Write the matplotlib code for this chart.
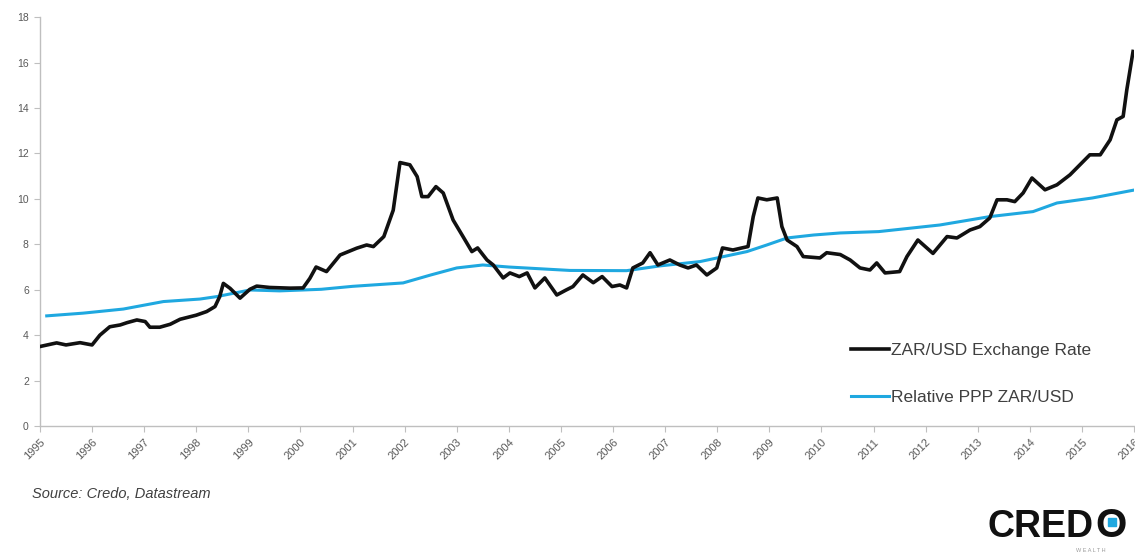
import numpy as np
import matplotlib.pyplot as plt

plt.rcParams['font.family'] = ['Liberation Sans', 'DejaVu Sans']

# ZAR/USD spot rate (decimal year, rand per dollar)
fx_years = [1995.00, 1995.32, 1995.50, 1995.77, 1996.00, 1996.15, 1996.34, 1996.54, 1996.67, 1996.86,
            1997.02, 1997.11, 1997.30, 1997.50, 1997.69, 1998.00, 1998.20, 1998.36, 1998.45, 1998.52,
            1998.65, 1998.84, 1999.03, 1999.16, 1999.41, 1999.80, 2000.05, 2000.18, 2000.30, 2000.50,
            2000.76, 2001.08, 2001.27, 2001.40, 2001.60, 2001.78, 2001.91, 2002.10, 2002.24, 2002.33,
            2002.45, 2002.60, 2002.74, 2002.93, 2003.12, 2003.29, 2003.40, 2003.58, 2003.70, 2003.89,
            2004.02, 2004.20, 2004.35, 2004.50, 2004.69, 2004.92, 2005.10, 2005.23, 2005.42, 2005.62,
            2005.79, 2005.98, 2006.13, 2006.26, 2006.38, 2006.57, 2006.71, 2006.86, 2007.09, 2007.28,
            2007.44, 2007.60, 2007.80, 2007.99, 2008.10, 2008.30, 2008.47, 2008.59, 2008.69, 2008.78,
            2008.95, 2009.15, 2009.24, 2009.34, 2009.53, 2009.65, 2009.97, 2010.10, 2010.36, 2010.55,
            2010.74, 2010.93, 2011.06, 2011.22, 2011.50, 2011.64, 2011.85, 2012.14, 2012.41, 2012.60,
            2012.85, 2013.04, 2013.23, 2013.37, 2013.56, 2013.71, 2013.87, 2014.04, 2014.29, 2014.52,
            2014.77, 2014.96, 2015.15, 2015.35, 2015.54, 2015.67, 2015.79, 2015.86, 2015.98]
fx_rate = [3.50, 3.66, 3.57, 3.67, 3.57, 4.00, 4.37, 4.45, 4.55, 4.67,
           4.60, 4.35, 4.35, 4.48, 4.70, 4.88, 5.04, 5.26, 5.70, 6.28,
           6.06, 5.63, 6.02, 6.16, 6.10, 6.07, 6.08, 6.50, 7.00, 6.80,
           7.53, 7.83, 7.97, 7.90, 8.34, 9.50, 11.60, 11.50, 10.98, 10.10,
           10.10, 10.54, 10.26, 9.07, 8.34, 7.68, 7.84, 7.31, 7.09, 6.52,
           6.74, 6.58, 6.74, 6.08, 6.52, 5.77, 5.99, 6.14, 6.65, 6.31,
           6.58, 6.14, 6.21, 6.08, 6.96, 7.18, 7.63, 7.09, 7.31, 7.09,
           6.96, 7.09, 6.65, 6.96, 7.84, 7.75, 7.84, 7.90, 9.22, 10.04,
           9.96, 10.04, 8.78, 8.19, 7.90, 7.46, 7.40, 7.63, 7.55, 7.31,
           6.96, 6.87, 7.18, 6.74, 6.80, 7.46, 8.19, 7.60, 8.34, 8.28,
           8.63, 8.78, 9.16, 9.96, 9.96, 9.88, 10.26, 10.92, 10.40, 10.62,
           11.06, 11.50, 11.94, 11.94, 12.60, 13.48, 13.63, 14.80, 16.49]

# relative purchasing power parity rate
ppp_years = [1995.13, 1995.83, 1996.60, 1997.37, 1998.07, 1998.40, 1999.03, 1999.60, 2000.40, 2001.00,
             2001.97, 2002.50, 2003.00, 2003.50, 2004.00, 2005.17, 2006.26, 2006.90, 2007.67, 2008.57,
             2008.95, 2009.34, 2009.85, 2010.36, 2011.10, 2012.27, 2013.23, 2014.06, 2014.52, 2015.20,
             2015.98]
ppp_rate = [4.85, 4.97, 5.15, 5.48, 5.59, 5.70, 5.99, 5.95, 6.02, 6.15,
            6.30, 6.65, 6.96, 7.09, 7.00, 6.85, 6.84, 7.05, 7.24, 7.68,
            7.97, 8.28, 8.41, 8.50, 8.56, 8.85, 9.22, 9.44, 9.82, 10.04,
            10.38]

year_ticks = list(range(1995, 2017))
value_ticks = list(range(0, 19, 2))

grey = '#595959'
blue = '#1fa8e0'

fig = plt.figure(figsize=(11.35, 5.54), dpi=100)
ax = fig.add_axes([0.0352, 0.231, 0.964, 0.738])

ax.plot(fx_years, fx_rate, color='#111111', lw=2.6, label='ZAR/USD Exchange Rate', zorder=3)
ax.plot(ppp_years, ppp_rate, color=blue, lw=2.2, label='Relative PPP ZAR/USD', zorder=2)

ax.set_xlim(1995, 2016)
ax.set_ylim(0, 18)
ax.set_xticks(year_ticks)
ax.set_xticklabels([str(y) for y in year_ticks], rotation=45, ha='right', va='top',
                   rotation_mode='anchor', fontsize=8, color=grey)
ax.set_yticks(value_ticks)
ax.set_yticklabels([str(v) for v in value_ticks], fontsize=7.5, color=grey)
ax.tick_params(axis='both', direction='out', length=4, width=0.8, color='#bfbfbf', pad=4)

for side in ['top', 'right']:
    ax.spines[side].set_visible(False)
for side in ['left', 'bottom']:
    ax.spines[side].set_color('#bfbfbf')
    ax.spines[side].set_linewidth(1.0)

leg = ax.legend(loc='lower right', bbox_to_anchor=(0.975, 0.013), frameon=False, fontsize=12.5,
                handlelength=2.2, handletextpad=0.1, labelspacing=1.85)
for t in leg.get_texts():
    t.set_color('#404040')

fig.text(0.028, 0.108, 'Source: Credo, Datastream', fontsize=10.5, style='italic',
         color='#404040', va='center')

# company mark in the bottom corner: "CRED" then an "O" with a blue centre
fig.canvas.draw()
renderer = fig.canvas.get_renderer()
cred = fig.text(0.870, 0.031, 'CRED', fontsize=27, fontweight='bold', color='#111111')
bb = cred.get_window_extent(renderer)
x_o = bb.x1 / fig.bbox.width + 0.002
o_txt = fig.text(x_o, 0.031, 'O', fontsize=29, fontweight='bold', color='#111111')
ob = o_txt.get_window_extent(renderer)
cx = 0.5 * (ob.x0 + ob.x1) / fig.bbox.width
fig.add_artist(plt.Line2D([cx], [0.058], marker='s', markersize=6, color=blue,
                          transform=fig.transFigure))
fig.text(0.948, 0.003, 'W E A L T H', fontsize=4, color='#9a9a9a')

fig.savefig('out.png', dpi=100)
